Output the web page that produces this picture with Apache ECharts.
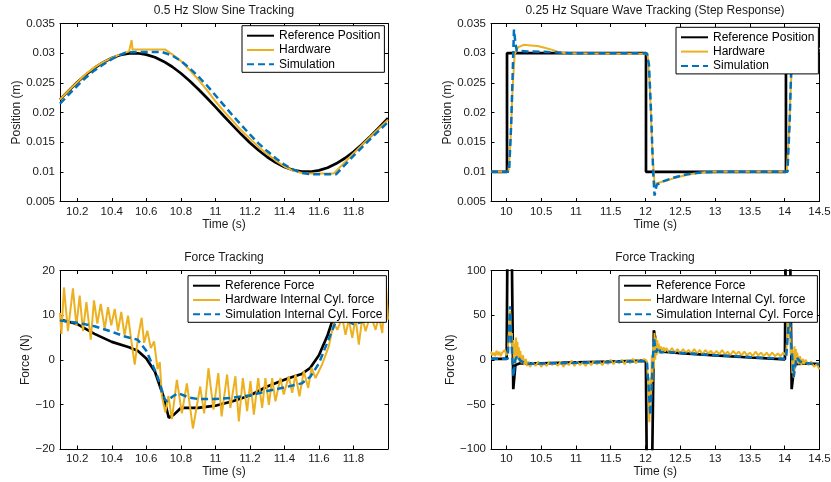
<!DOCTYPE html>
<html>
<head>
<meta charset="utf-8">
<script src="https://cdn.jsdelivr.net/npm/echarts@6/dist/echarts.min.js"></script>
<style>
  html, body { margin: 0; padding: 0; background: #fff; }
  #chart { width: 831px; height: 482px; }
</style>
</head>
<body>
<div id="chart"></div>
<script>
// ---- 0.5 Hz slow sine: position (m) vs time (s) ----
const sineRef = [
  [10.10,0.02218],[10.15,0.02368],[10.20,0.02509],[10.25,0.02637],[10.30,0.02750],[10.35,0.02844],
  [10.40,0.02918],[10.45,0.02969],[10.50,0.02996],[10.55,0.02998],[10.60,0.02976],[10.65,0.02930],
  [10.70,0.02861],[10.75,0.02771],[10.80,0.02661],[10.85,0.02536],[10.90,0.02397],[10.95,0.02249],
  [11.00,0.02094],[11.05,0.01937],[11.10,0.01782],[11.15,0.01632],[11.20,0.01491],[11.25,0.01363],
  [11.30,0.01250],[11.35,0.01156],[11.40,0.01082],[11.45,0.01031],[11.50,0.01004],[11.55,0.01002],
  [11.60,0.01024],[11.65,0.01070],[11.70,0.01139],[11.75,0.01229],[11.80,0.01339],[11.85,0.01464],
  [11.90,0.01603],[11.95,0.01751],[12.00,0.01906]
];
const sineHardware = [
  [10.10,0.0222],[10.15,0.0237],[10.20,0.0251],[10.25,0.0265],[10.30,0.0276],[10.35,0.0285],
  [10.40,0.0292],[10.45,0.0298],[10.50,0.0303],[10.51,0.0305],[10.515,0.0322],[10.52,0.0306],
  [10.60,0.0306],[10.71,0.0306],[10.75,0.0298],[10.80,0.0287],[10.85,0.0272],[10.90,0.0256],
  [10.95,0.0238],[11.00,0.0219],[11.05,0.0202],[11.10,0.0186],[11.15,0.0170],[11.20,0.0156],
  [11.25,0.0142],[11.30,0.0130],[11.35,0.0119],[11.40,0.0109],[11.45,0.0102],[11.50,0.0098],
  [11.55,0.0097],[11.60,0.0097],[11.685,0.0097],[11.80,0.0131],[11.90,0.0160],[12.00,0.0188]
];
const sineSimulation = [
  [10.10,0.0215],[10.15,0.0230],[10.20,0.0245],[10.25,0.0259],[10.30,0.0271],[10.35,0.0281],
  [10.40,0.0290],[10.45,0.0297],[10.48,0.0301],[10.55,0.0302],[10.69,0.0302],[10.75,0.0296],
  [10.80,0.0287],[10.85,0.0275],[10.90,0.0261],[10.95,0.0246],[11.00,0.0229],[11.05,0.0212],
  [11.10,0.0195],[11.15,0.0179],[11.20,0.0163],[11.25,0.0148],[11.30,0.0135],[11.35,0.0123],
  [11.40,0.0112],[11.45,0.0104],[11.50,0.0098],[11.55,0.0096],[11.70,0.0096],[11.80,0.0127],
  [11.90,0.0156],[12.00,0.0184]
];

// ---- 0.25 Hz square wave: position (m) vs time (s) ----
const squareRef = [
  [9.78,0.010],[10.01,0.010],[10.01,0.030],[12.007,0.030],[12.007,0.010],[14.018,0.010],[14.018,0.030],[14.5,0.030]
];
const squareHardware = [
  [9.78,0.0100],[10.03,0.0100],[10.06,0.0150],[10.09,0.0240],[10.12,0.0298],[10.17,0.0310],
  [10.25,0.0314],[10.35,0.0313],[10.45,0.0312],[10.55,0.0309],[10.65,0.0306],[10.75,0.0302],
  [10.85,0.0300],[11.00,0.0300],[12.03,0.0299],[12.06,0.0250],[12.10,0.0130],[12.13,0.0080],
  [12.20,0.0082],[12.30,0.0085],[12.40,0.0089],[12.50,0.0092],[12.60,0.0095],[12.75,0.0098],
  [12.90,0.0100],[14.03,0.0100],[14.06,0.0160],[14.09,0.0250],[14.12,0.0300],[14.20,0.0314],
  [14.40,0.0315],[14.45,0.0312],[14.50,0.0307]
];
const squareSimulation = [
  [9.78,0.0100],[10.04,0.0100],[10.07,0.0180],[10.10,0.0300],[10.11,0.0340],[10.13,0.0318],
  [10.15,0.0304],[10.30,0.0303],[10.60,0.0302],[10.90,0.0300],[12.02,0.0300],[12.05,0.0280],
  [12.08,0.0200],[12.11,0.0100],[12.13,0.0060],[12.16,0.0078],[12.25,0.0084],[12.40,0.0090],
  [12.60,0.0096],[12.80,0.0099],[13.00,0.0100],[14.04,0.0100],[14.07,0.0180],[14.10,0.0300],
  [14.11,0.0340],[14.13,0.0318],[14.15,0.0304],[14.50,0.0303]
];

// ---- force tracking during the sine (N) ----
const sineForceRef = [
  [10.10,9.0],[10.20,8.0],[10.30,5.8],[10.40,4.0],[10.50,2.8],[10.55,2.0],[10.60,0.3],[10.65,-2.7],
  [10.70,-8.3],[10.73,-13.0],[10.76,-12.3],[10.80,-10.8],[10.90,-10.8],[11.00,-10.3],[11.10,-9.3],
  [11.20,-8.0],[11.30,-6.0],[11.40,-4.5],[11.45,-3.8],[11.50,-3.2],[11.55,-1.8],[11.60,1.0],
  [11.65,5.5],[11.68,9.0],[11.72,10.5],[11.80,9.5],[11.90,9.5],[12.00,10.0]
];
const sineForceHardware = [
  [10.100,10.5],[10.108,5.8],[10.123,16.2],[10.146,6.4],[10.175,16.0],[10.195,7.6],[10.214,14.4],
  [10.233,6.4],[10.253,12.9],[10.278,4.5],[10.297,13.3],[10.316,8.1],[10.336,12.5],[10.359,6.9],
  [10.378,11.8],[10.397,7.7],[10.417,11.4],[10.436,6.5],[10.455,10.7],[10.474,5.4],[10.494,9.9],
  [10.514,4.0],[10.533,-1.1],[10.552,5.0],[10.573,9.4],[10.587,3.8],[10.606,6.5],[10.626,2.6],
  [10.645,4.1],[10.665,-2.1],[10.678,-0.5],[10.690,-8.1],[10.710,-11.8],[10.728,-8.1],[10.748,-13.3],
  [10.777,-4.5],[10.806,-12.0],[10.835,-5.3],[10.870,-15.4],[10.912,-6.0],[10.935,-12.0],[10.960,-1.9],
  [10.989,-11.2],[11.017,-3.0],[11.036,-12.7],[11.068,-3.3],[11.087,-10.8],[11.116,-3.7],[11.136,-13.8],
  [11.159,-4.1],[11.184,-11.5],[11.203,-4.8],[11.223,-12.3],[11.248,-4.1],[11.271,-10.8],[11.290,-4.1],
  [11.310,-10.1],[11.329,-4.1],[11.348,-9.3],[11.377,-4.1],[11.396,-7.8],[11.425,-3.7],[11.445,-7.4],
  [11.464,-3.3],[11.487,-8.2],[11.512,-2.6],[11.538,-6.3],[11.557,-1.8],[11.580,-4.1],[11.619,-1.0],
  [11.657,3.0],[11.686,8.2],[11.706,6.7],[11.735,9.4],[11.754,5.6],[11.773,9.0],[11.793,4.9],
  [11.812,9.4],[11.831,3.4],[11.851,9.4],[11.870,6.4],[11.899,10.1],[11.928,6.7],[11.947,9.7],
  [11.967,6.0],[11.986,18.3],[12.000,9.0]
];
const sineForceSimulation = [
  [10.10,8.8],[10.20,8.3],[10.30,7.5],[10.40,6.3],[10.475,5.2],[10.55,4.5],[10.60,2.0],[10.64,-1.5],
  [10.668,-4.1],[10.707,-8.9],[10.72,-9.3],[10.75,-8.3],[10.784,-7.5],[10.85,-8.5],[10.90,-8.8],
  [11.00,-8.8],[11.10,-8.5],[11.20,-8.0],[11.30,-7.0],[11.40,-6.2],[11.50,-5.3],[11.55,-3.8],
  [11.60,-0.8],[11.65,4.0],[11.70,8.8],[11.75,9.0],[11.80,8.0],[11.90,9.0],[12.00,9.5]
];

// ---- force tracking during the square wave (N) ----
const squareForceRef = [
  [9.78,1],[10.005,1],[10.04,400],[10.10,-33],[10.13,-6],[10.20,-4],[10.50,-4],[11.00,-3],[11.50,-2],
  [12.005,-1],[12.05,-400],[12.12,33],[12.17,12],[12.25,9],[12.50,7.5],[13.00,5],[13.50,2.5],
  [14.003,0.5],[14.04,400],[14.10,-33],[14.14,-5],[14.30,-4],[14.50,-5]
];
const squareForceHardware = [
  [9.78,9],[9.80,5],[9.82,8],[9.84,4],[9.86,10],[9.88,5],[9.90,9],[9.92,4],[9.94,8],[9.96,6],
  [9.98,11],[10.00,5],[10.02,8],[10.04,35],[10.055,55],[10.07,18],[10.08,30],[10.09,10],[10.10,22],
  [10.11,-5],[10.12,18],[10.13,5],[10.14,25],[10.15,2],[10.16,20],[10.17,0],[10.18,14],[10.19,-2],
  [10.20,10],[10.22,-4],[10.24,5],[10.26,-6],[10.28,1],[10.30,-7],[10.32,-2],[10.34,-8],[10.38,-3],
  [10.42,-7],[10.46,-2],[10.50,-8],[10.54,-4],[10.58,-7],[10.62,-2],[10.66,-6],[10.70,-3],[10.74,-7],
  [10.78,-2],[10.82,-8],[10.86,-3],[10.90,-6],[10.94,-1],[10.98,-7],[11.02,-2],[11.06,-6],[11.10,-3],
  [11.14,-7],[11.18,-2],[11.22,-6],[11.26,-1],[11.30,-5],[11.34,-2],[11.38,-6],[11.42,-1],[11.46,-5],
  [11.50,0],[11.54,-5],[11.58,-1],[11.62,-4],[11.66,0],[11.70,-5],[11.74,0],[11.78,-4],[11.82,1],
  [11.86,-4],[11.90,0],[11.94,-3],[11.98,1],[12.02,-2],[12.04,-30],[12.055,-70],[12.07,-20],
  [12.08,-45],[12.09,5],[12.10,-25],[12.11,20],[12.12,-10],[12.13,30],[12.14,0],[12.15,25],[12.16,5],
  [12.17,22],[12.18,8],[12.19,18],[12.20,7],[12.22,15],[12.24,8],[12.26,14],[12.28,9],[12.30,13],
  [12.34,8],[12.38,13],[12.42,8],[12.46,12],[12.50,7],[12.54,12],[12.58,8],[12.62,11],[12.66,7],
  [12.70,12],[12.74,7],[12.78,11],[12.82,6],[12.86,11],[12.90,7],[12.94,10],[12.98,6],[13.02,10],
  [13.06,6],[13.10,11],[13.14,6],[13.18,9],[13.22,5],[13.26,10],[13.30,6],[13.34,9],[13.38,5],
  [13.42,9],[13.46,5],[13.50,8],[13.54,4],[13.58,9],[13.62,5],[13.66,8],[13.70,4],[13.74,8],
  [13.78,4],[13.82,8],[13.86,4],[13.90,7],[13.94,4],[13.98,8],[14.02,5],[14.04,30],[14.055,60],
  [14.07,25],[14.08,40],[14.09,5],[14.10,20],[14.11,-15],[14.12,10],[14.13,-20],[14.14,15],
  [14.15,-5],[14.16,12],[14.17,-3],[14.18,8],[14.20,-5],[14.22,4],[14.24,-6],[14.26,1],[14.28,-5],
  [14.30,0],[14.34,-6],[14.38,-2],[14.42,-8],[14.46,-5],[14.50,-11]
];
const squareForceSimulation = [
  [9.78,1],[10.02,1],[10.053,60],[10.075,20],[10.10,-19],[10.13,0],[10.16,5],[10.20,-1],[10.25,-3],
  [10.30,-4.5],[11.00,-3.5],[11.50,-2.5],[12.02,-1.5],[12.07,-62],[12.12,25],[12.15,8],[12.18,14],
  [12.22,8],[12.30,9],[12.80,6],[13.50,3],[14.02,1],[14.07,55],[14.10,10],[14.13,-19],[14.17,3],
  [14.22,-2],[14.30,-4],[14.50,-5]
];

// ---- axis ticks and labels ----
const sineTimeTicks = [10.2,10.4,10.6,10.8,11,11.2,11.4,11.6,11.8];
const squareTimeTicks = [10,10.5,11,11.5,12,12.5,13,13.5,14,14.5];
const positionTicks = [0.005,0.01,0.015,0.02,0.025,0.03,0.035];
const sineForceTicks = [-20,-10,0,10,20];
const squareForceTicks = [-100,-50,0,50,100];

const titles = ['0.5 Hz Slow Sine Tracking','0.25 Hz Square Wave Tracking (Step Response)','Force Tracking','Force Tracking'];
const positionNames = ['Reference Position','Hardware','Simulation'];
const forceNames = ['Reference Force','Hardware Internal Cyl. force','Simulation Internal Cyl. Force'];

const FONT = '"Liberation Sans", Arial, Helvetica, sans-serif';
const TXT = '#1a1a1a';
const BLACK = '#000000', ORANGE = '#EDB120', BLUE = '#0072BD';

const panels = [
  { rect: {left: 60,  top: 23.5,  width: 328,   height: 178},   x: [10.1, 12.0], xt: sineTimeTicks,
    y: [0.005, 0.035], yt: positionTicks, yName: 'Position (m)', yGap: 33,
    fmt: v => String(+v.toFixed(3)), names: positionNames,
    data: [sineRef, sineHardware, sineSimulation],
    legend: {left: 242, top: 25.7}, title: {x: 224, y: 5} },
  { rect: {left: 491, top: 23.5,  width: 328.5, height: 178},   x: [9.78, 14.5], xt: squareTimeTicks,
    y: [0.005, 0.035], yt: positionTicks, yName: 'Position (m)', yGap: 33,
    fmt: v => String(+v.toFixed(3)), names: positionNames,
    data: [squareRef, squareHardware, squareSimulation],
    legend: {left: 676, top: 27.3}, title: {x: 655, y: 5} },
  { rect: {left: 60,  top: 270.5, width: 328,   height: 178.5}, x: [10.1, 12.0], xt: sineTimeTicks,
    y: [-20, 20], yt: sineForceTicks, yName: 'Force (N)', yGap: 24,
    fmt: v => (v < 0 ? '\u2212' + (-v) : String(v)), names: forceNames,
    data: [sineForceRef, sineForceHardware, sineForceSimulation],
    legend: {left: 188, top: 275.7}, title: {x: 224, y: 252} },
  { rect: {left: 491, top: 270.5, width: 328.5, height: 178.5}, x: [9.78, 14.5], xt: squareTimeTicks,
    y: [-100, 100], yt: squareForceTicks, yName: 'Force (N)', yGap: 33,
    fmt: v => (v < 0 ? '\u2212' + (-v) : String(v)), names: forceNames,
    data: [squareForceRef, squareForceHardware, squareForceSimulation],
    legend: {left: 619, top: 275.7}, title: {x: 655, y: 252} }
];

const lineStyles = [
  { color: BLACK,  width: 2.7, type: 'solid' },
  { color: ORANGE, width: 2.0, type: 'solid' },
  { color: BLUE,   width: 2.5, type: [7, 4] }
];

const grid = [], xAxis = [], yAxis = [], series = [], legend = [], title = [];
const axisLine = { onZero: false, lineStyle: { color: '#000', width: 1 } };
const tickStyle = { color: '#000', width: 1 };

panels.forEach((p, g) => {
  grid.push(Object.assign({ containLabel: false, outerBoundsMode: 'none' }, p.rect));
  title.push({
    text: titles[g], left: p.title.x, top: p.title.y, textAlign: 'center', padding: 0,
    textStyle: { fontSize: 12, fontWeight: 'normal', color: TXT, fontFamily: FONT }
  });
  // bottom + top x axes (box with inward ticks)
  xAxis.push({
    type: 'value', gridIndex: g, position: 'bottom', min: p.x[0], max: p.x[1],
    axisLine, splitLine: { show: false },
    axisTick: { inside: true, length: 3.5, customValues: p.xt, lineStyle: tickStyle },
    axisLabel: { customValues: p.xt, margin: 4, fontSize: 11.5, color: TXT, fontFamily: FONT,
                 formatter: v => String(+v.toFixed(2)) },
    name: 'Time (s)', nameLocation: 'middle', nameGap: 16,
    nameTextStyle: { fontSize: 12, color: TXT, fontFamily: FONT }
  });
  xAxis.push({
    type: 'value', gridIndex: g, position: 'top', min: p.x[0], max: p.x[1],
    axisLine, splitLine: { show: false },
    axisTick: { inside: true, length: 3.5, customValues: p.xt, lineStyle: tickStyle },
    axisLabel: { show: false }
  });
  yAxis.push({
    type: 'value', gridIndex: g, position: 'left', min: p.y[0], max: p.y[1],
    axisLine, splitLine: { show: false },
    axisTick: { inside: true, length: 3.5, customValues: p.yt, lineStyle: tickStyle },
    axisLabel: { customValues: p.yt, margin: 5, fontSize: 11.5, color: TXT, fontFamily: FONT, formatter: p.fmt },
    name: p.yName, nameLocation: 'middle', nameGap: p.yGap,
    nameTextStyle: { fontSize: 12, color: TXT, fontFamily: FONT }
  });
  yAxis.push({
    type: 'value', gridIndex: g, position: 'right', min: p.y[0], max: p.y[1],
    axisLine, splitLine: { show: false },
    axisTick: { inside: true, length: 3.5, customValues: p.yt, lineStyle: tickStyle },
    axisLabel: { show: false }
  });
  p.data.forEach((d, k) => {
    series.push({
      type: 'line', name: p.names[k], xAxisIndex: 2 * g, yAxisIndex: 2 * g, data: d,
      symbol: 'none', clip: true, z: 2 + k,
      lineStyle: Object.assign({}, lineStyles[k]),
      itemStyle: { color: lineStyles[k].color }
    });
  });
  legend.push({
    orient: 'vertical', left: p.legend.left, top: p.legend.top,
    padding: [4, 4, 2, 4], itemWidth: 27, itemHeight: 12, itemGap: 2.3,
    borderColor: '#000', borderWidth: 1, backgroundColor: '#fff', selectedMode: false,
    itemStyle: { opacity: 0 },
    textStyle: { fontSize: 12, color: '#000', fontFamily: FONT },
    data: p.names, z: 10
  });
});

const chart = echarts.init(document.getElementById('chart'), null, { renderer: 'canvas' });
chart.setOption({ animation: false, backgroundColor: '#fff', title, grid, xAxis, yAxis, series, legend });
</script>
</body>
</html>
